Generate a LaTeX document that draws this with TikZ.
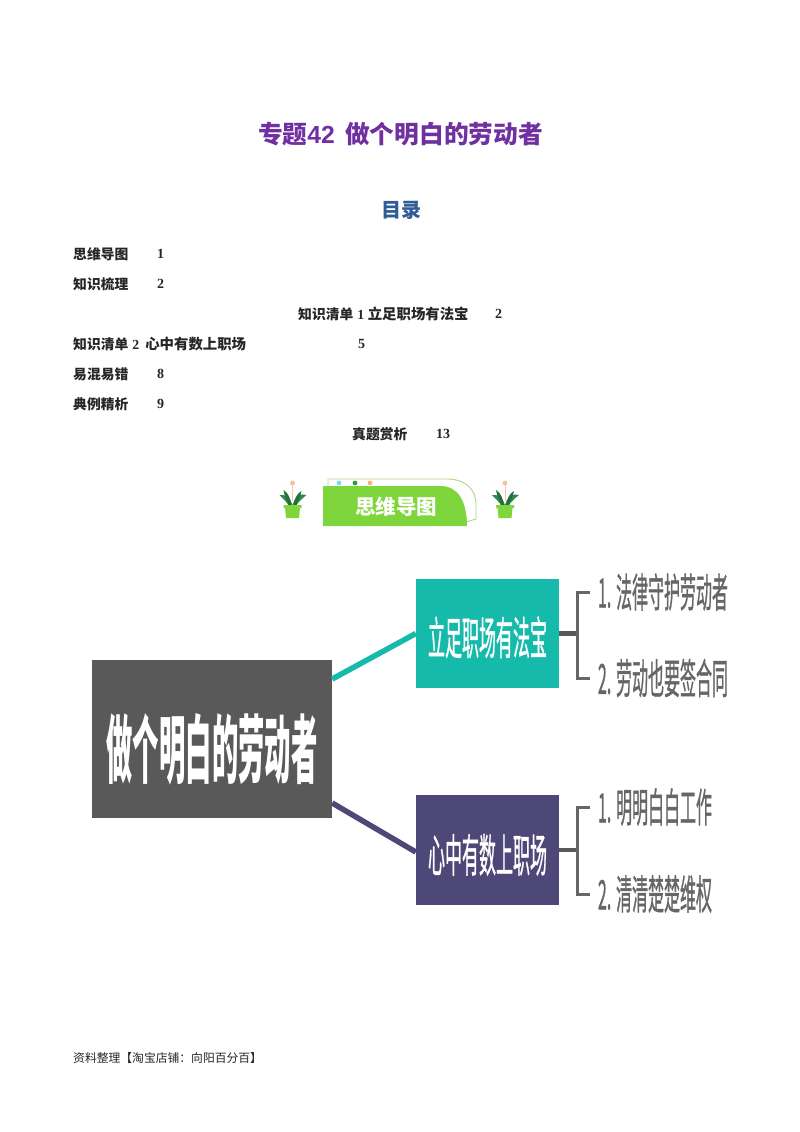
\documentclass[tikz,border=0pt]{standalone}
\usepackage{fontspec}
\usepackage{graphicx}
\setmainfont{Noto Sans CJK SC}
\newfontfamily\numf{Liberation Serif}
\newfontfamily\latf{Liberation Sans}
\newfontfamily\semib[FakeBold=1.2]{Noto Sans CJK SC}
\definecolor{titlepurple}{HTML}{7030A0}
\definecolor{tocblue}{HTML}{2F5C96}
\definecolor{maingray}{HTML}{595959}
\definecolor{tealbox}{HTML}{16BAAA}
\definecolor{purplebox}{HTML}{4E4878}
\definecolor{leafgray}{HTML}{666666}
\definecolor{bannergreen}{HTML}{7ED63C}
\definecolor{outlinegreen}{HTML}{B5D68A}
\definecolor{leafgreen}{HTML}{2E8B4F}
\definecolor{flower}{HTML}{F2B27A}
\newcommand{\fitbox}[3]{\resizebox{#1pt}{#2pt}{#3}}
\newcommand{\wider}{\fontsize{14.4}{15}\selectfont}
\tikzset{
  toc/.style={anchor=west,inner sep=0pt,font=\fontsize{13.8}{15}\selectfont\bfseries,text=black!85},
  tocnum/.style={inner sep=0pt,font=\fontsize{14}{15}\selectfont\numf\bfseries,text=black!85},
  mapbox/.style={draw=none,inner sep=0pt,text=white},
  leaf/.style={inner xsep=8pt,inner ysep=0pt,text=leafgray},
  bracket/.style={draw=leafgray,line width=3pt},
  stub/.style={draw=maingray,line width=4.5pt},
  plant/.pic={
    \fill[flower!80!white] (0,-22) circle (2.4);
    \draw[flower!70!white,line width=.8pt] (0,-20) -- (0,-4);
    \fill[leafgreen] (0,0) .. controls (-3,-8) and (-7,-11) .. (-13,-10) .. controls (-9,-6) and (-6,-3) .. (-3,1) -- cycle;
    \fill[leafgreen] (0,0) .. controls (3,-9) and (8,-12) .. (14,-10) .. controls (9,-6) and (6,-3) .. (3,1) -- cycle;
    \fill[leafgreen!80!black] (-1,0) .. controls (-2,-6) and (-4,-12) .. (-9,-15) .. controls (-8,-9) and (-6,-5) .. (-4,1) -- cycle;
    \fill[leafgreen!80!black] (1,0) .. controls (2,-6) and (4,-11) .. (9,-14) .. controls (8,-9) and (6,-5) .. (4,1) -- cycle;
    \fill[bannergreen] (-9,0) -- (9,0) -- (9,3) -- (7.5,3) -- (6.5,13) -- (-6.5,13) -- (-7.5,3) -- (-9,3) -- cycle;
  }
}
\begin{document}
\begin{tikzpicture}[x=1pt,y=-1pt]
\useasboundingbox[fill=white] (0,0) rectangle (800,1132);
% title
\node[inner sep=0pt,text=titlepurple] (title) at (400.5,134) {\resizebox{285pt}{!}{\fontsize{24}{28}\selectfont\bfseries 专题{\latf\bfseries 42}\hspace{10pt}做个明白的劳动者}};
\node[inner sep=0pt,text=tocblue,font=\fontsize{20}{24}\selectfont\bfseries] (mulu) at (401.5,210) {目录};
% table of contents
\node[toc] (t1) at (73,254) {思维导图};
\node[tocnum] (n1) at (160.5,254) {1};
\node[toc] (t2) at (73,284) {知识梳理};
\node[tocnum] (n2) at (160.5,284) {2};
\node[toc] (t3) at (298,314) {知识清单{\numf\bfseries\hspace{4pt}1\hspace{3.5pt}}{\wider 立足职场有法宝}};
\node[tocnum] (n3) at (498.7,314) {2};
\node[toc] (t4) at (73,344) {知识清单{\numf\bfseries\hspace{4pt}2\hspace{6pt}}{\wider 心中有数上职场}};
\node[tocnum] (n4) at (361.5,344) {5};
\node[toc] (t5) at (73,374) {易混易错};
\node[tocnum] (n5) at (160.5,374) {8};
\node[toc] (t6) at (73,404) {典例精析};
\node[tocnum] (n6) at (160.5,404) {9};
\node[toc] (t7) at (352,434) {真题赏析};
\node[tocnum] (n7) at (443,434) {13};
% banner
\draw[outlinegreen,line width=.9pt] (328,487) -- (328,479) -- (447,479) .. controls (466,479) and (476,490) .. (476,504) -- (476,519) -- (466,522);
\fill[bannergreen] (323,486) -- (441,486) .. controls (457,486) and (467,500) .. (467,526) -- (323,526) -- cycle;
\fill[cyan!50!white] (339,483) circle (2.4);
\fill[green!50!black!80] (355,483) circle (2.4);
\fill[flower] (370,483) circle (2.4);
\node[inner sep=0pt,text=white,font=\fontsize{20.5}{24}\selectfont\bfseries] (banner) at (396,507) {思维导图};
\pic at (292.5,505) {plant};
\pic at (505,505) {plant};
% mind map
\node[mapbox,fill=maingray,minimum width=240pt,minimum height=158pt] (main) at (212,739) {\raisebox{-38pt}[0pt][0pt]{\fitbox{211}{64}{\bfseries 做个明白的劳动者}}};
\node[mapbox,fill=tealbox,minimum width=143pt,minimum height=109pt] (teal) at (487.5,633.5) {\raisebox{-21pt}[0pt][0pt]{\fitbox{119}{38}{\semib 立足职场有法宝}}};
\node[mapbox,fill=purplebox,minimum width=143pt,minimum height=110pt] (purp) at (487.5,850) {\raisebox{-22pt}[0pt][0pt]{\fitbox{119}{38}{\semib 心中有数上职场}}};
\node[leaf] (l1) at (663,592) {\fitbox{130}{34}{\semib 1. 法律守护劳动者}};
\node[leaf] (l2) at (663,678) {\fitbox{130}{35}{\semib 2. 劳动也要签合同}};
\node[leaf] (l3) at (655,807) {\fitbox{114}{34}{\semib 1. 明明白白工作}};
\node[leaf] (l4) at (655,894) {\fitbox{114}{34}{\semib 2. 清清楚楚维权}};
\draw[tealbox,line width=5.5pt] ([yshift=60pt]main.east) -- (teal.west);
\draw[purplebox,line width=5.5pt] ([yshift=-64pt]main.east) -- ([yshift=-2pt]purp.west);
\coordinate (j1) at (577,633.5);
\coordinate (j2) at (577,850);
\draw[stub] (teal.east) -- (j1);
\draw[stub] (purp.east) -- (j2);
\draw[bracket] (l1.west) -| (j1) |- (l2.west);
\draw[bracket] (l3.west) -| (j2) |- (l4.west);
% footer
\node[anchor=west,inner sep=0pt,text=black!85,font=\fontsize{11.8}{14}\selectfont] (foot) at (73,1058) {资料整理【淘宝店铺：向阳百分百】};
\end{tikzpicture}
\end{document}
